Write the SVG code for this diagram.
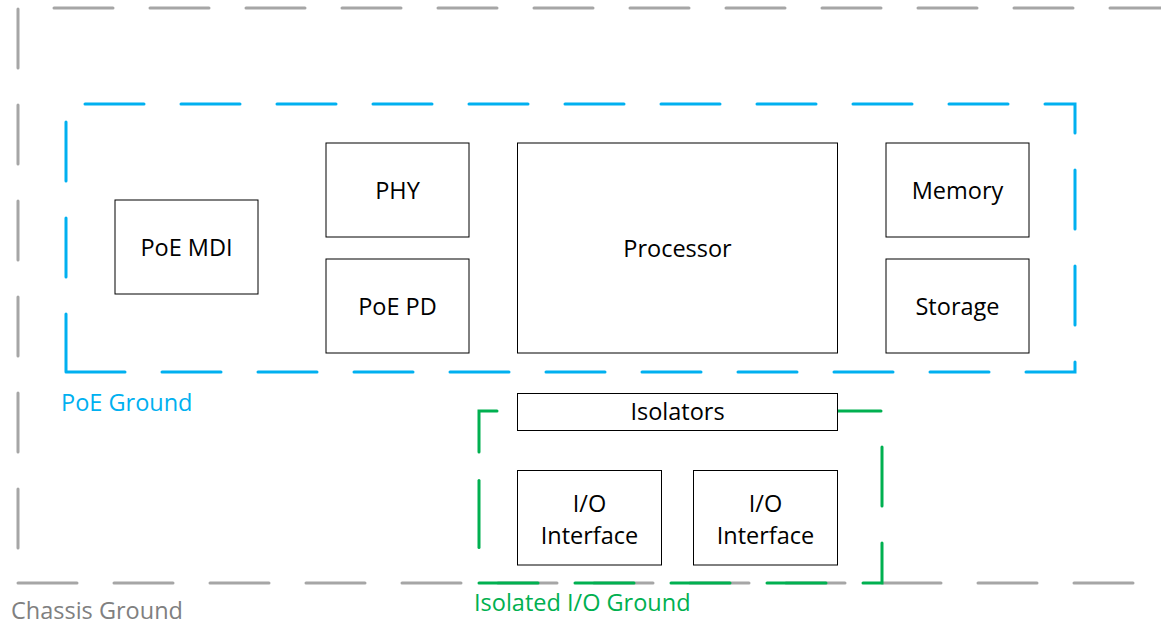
<svg xmlns="http://www.w3.org/2000/svg" width="1161" height="625" viewBox="0 0 1161 625">
  <style>
    .box { fill: #ffffff; stroke: #000000; stroke-width: 1; }
    .t { font-family: "Open Sans", "Liberation Sans", sans-serif; font-size: 23.5px; fill: #000000; text-anchor: middle; }
    .lbl { font-family: "Open Sans", "Liberation Sans", sans-serif; font-size: 23.5px; }
    .dash { fill: none; stroke-width: 3; stroke-linecap: round; stroke-linejoin: miter; stroke-dasharray: 59 37; }
  </style>
  <g id="zones">
    <path id="chassis-ground" class="dash" stroke="#A6A6A6" d="M18,583 H1170 V8 H18 V583"/>
    <path id="poe-ground" class="dash" stroke="#00B0F0" d="M66,372 H1075 V104 H66 V372"/>
    <path id="isolated-ground" class="dash" stroke="#00B050" d="M479,583 H882 V411 H479 V452.5"/>
    <line x1="479" y1="480.5" x2="479" y2="547.5" stroke="#00B050" stroke-width="3" stroke-linecap="round"/>
  </g>
  <g id="connectors"></g>
  <g id="node-poe-mdi"><rect class="box" x="115" y="200" width="143" height="94"/><text class="t" x="186.5" y="255.5">PoE MDI</text></g>
  <g id="node-phy"><rect class="box" x="326" y="143" width="143" height="94"/><text class="t" x="397.5" y="198.5">PHY</text></g>
  <g id="node-poe-pd"><rect class="box" x="326" y="259" width="143" height="94"/><text class="t" x="397.5" y="314.5">PoE PD</text></g>
  <g id="node-processor"><rect class="box" x="517.5" y="143" width="320" height="210"/><text class="t" x="677.5" y="256.5">Processor</text></g>
  <g id="node-memory"><rect class="box" x="886" y="143" width="143" height="94"/><text class="t" x="957.5" y="198.5">Memory</text></g>
  <g id="node-storage"><rect class="box" x="886" y="259" width="143" height="94"/><text class="t" x="957.5" y="314.5">Storage</text></g>
  <g id="node-isolators"><rect class="box" x="517.5" y="393.5" width="320" height="37"/><text class="t" x="677.5" y="420">Isolators</text></g>
  <g id="node-io-1"><rect class="box" x="517.5" y="470.5" width="144" height="94.5"/><text class="t" x="589.5" y="512">I/O</text><text class="t" x="589.5" y="544">Interface</text></g>
  <g id="node-io-2"><rect class="box" x="693.5" y="470.5" width="144" height="94.5"/><text class="t" x="765.5" y="512">I/O</text><text class="t" x="765.5" y="544">Interface</text></g>
  <g id="labels">
    <text class="lbl" x="61" y="411" fill="#00B0F0">PoE Ground</text>
    <text class="lbl" x="11" y="618.5" fill="#808080">Chassis Ground</text>
    <text class="lbl" x="474" y="611" fill="#00B050">Isolated I/O Ground</text>
  </g>
</svg>
